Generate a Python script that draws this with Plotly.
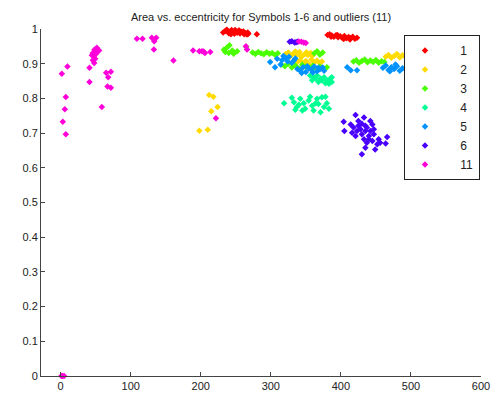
import plotly.graph_objects as go

# ---- data (area, eccentricity) ----
labels = ["1", "2", "3", "4", "5", "6", "11"]
colors = ["#ff0000", "#ffdb00", "#49ff00", "#00ff92", "#0092ff", "#4900ff", "#ff00db"]

x1 = [232, 235, 238, 240, 242, 244, 246, 248, 250, 252, 254, 256, 258, 260, 262, 264, 266, 268,
      237, 243, 249, 255, 261, 267, 280,
      381, 384, 387, 390, 393, 396, 399, 402, 405, 408, 411, 414, 417, 420, 423,
      386, 395, 404, 413]
y1 = [0.990, 0.994, 0.996, 0.988, 0.993, 0.997, 0.991, 0.986, 0.994, 0.989, 0.995, 0.987, 0.992, 0.990, 0.985, 0.988, 0.984, 0.986,
      0.998, 0.985, 0.997, 0.996, 0.993, 0.990, 0.985,
      0.983, 0.985, 0.981, 0.978, 0.982, 0.976, 0.979, 0.975, 0.980, 0.973, 0.977, 0.974, 0.978, 0.972, 0.975,
      0.978, 0.983, 0.971, 0.970]

x2 = [321, 325, 329, 333, 337, 341, 345, 349, 353, 357, 361, 327, 335, 343, 351, 359,
      338, 342, 346, 350, 354, 358, 362, 366, 370, 373,
      464, 468, 472, 476, 480, 484, 488, 492, 496, 500,
      212, 218, 224, 215, 198, 210]
y2 = [0.928, 0.932, 0.924, 0.930, 0.926, 0.934, 0.922, 0.929, 0.925, 0.931, 0.927, 0.920, 0.935, 0.921, 0.933, 0.923,
      0.905, 0.910, 0.902, 0.908, 0.900, 0.912, 0.904, 0.909, 0.901, 0.906,
      0.920, 0.925, 0.917, 0.922, 0.928, 0.918, 0.924, 0.920, 0.926, 0.921,
      0.810, 0.805, 0.775, 0.763, 0.707, 0.710]

x3 = [233, 237, 241, 245, 240, 235, 247, 252, 265,
      274, 278, 282, 286, 290, 294, 298, 302, 306, 310,
      362, 366, 370, 374,
      315, 320, 325, 330, 335, 340, 345, 350, 355, 360, 365, 370, 375, 380,
      418, 422, 426, 430, 434, 438, 442, 446, 450, 454, 458, 462]
y3 = [0.940, 0.946, 0.953, 0.938, 0.931, 0.934, 0.929, 0.936, 0.948,
      0.932, 0.928, 0.934, 0.930, 0.927, 0.933, 0.929, 0.931, 0.926, 0.930,
      0.930, 0.936, 0.926, 0.932,
      0.898, 0.893, 0.900, 0.889, 0.895, 0.886, 0.897, 0.891, 0.888, 0.894, 0.885, 0.892, 0.887, 0.890,
      0.906, 0.910, 0.903, 0.908, 0.912, 0.904, 0.909, 0.905, 0.911, 0.903, 0.907, 0.905]

x4 = [319, 330, 333, 337, 342, 347, 349, 354, 359, 361, 366, 368, 373, 376, 378, 380, 383, 371, 345, 335, 356, 340, 364,
      356, 361, 366, 371, 376, 380, 385, 387, 359, 368, 378, 383, 373, 364, 387]
y4 = [0.786, 0.802, 0.789, 0.775, 0.799, 0.786, 0.770, 0.794, 0.779, 0.765, 0.799, 0.784, 0.803, 0.775, 0.805, 0.786, 0.770, 0.760, 0.765, 0.767, 0.805, 0.782, 0.786,
      0.866, 0.861, 0.866, 0.857, 0.861, 0.852, 0.857, 0.847, 0.852, 0.847, 0.844, 0.842, 0.852, 0.857, 0.861]

x5 = [299, 306, 314, 309, 321, 333, 316, 326, 330, 335, 318, 324,
      338, 342, 346, 350, 354, 358, 362, 366, 370, 374, 344, 352, 360, 368, 376,
      409, 414, 423,
      460, 464, 468, 472, 476, 480, 484, 488, 492, 496, 500, 470, 478]
y5 = [0.905, 0.890, 0.898, 0.914, 0.917, 0.909, 0.910, 0.920, 0.903, 0.915, 0.922, 0.906,
      0.885, 0.880, 0.890, 0.876, 0.887, 0.882, 0.892, 0.878, 0.884, 0.889, 0.873, 0.893, 0.875, 0.888, 0.880,
      0.890, 0.881, 0.881,
      0.888, 0.895, 0.882, 0.890, 0.885, 0.893, 0.880, 0.887, 0.884, 0.889, 0.886, 0.878, 0.898]

x6 = [327, 330, 334, 336, 338,
      404, 421, 433, 442, 414, 418, 425, 430, 437, 445, 405, 416, 423, 430, 435, 440, 447, 433, 437, 445,
      452, 456, 466, 464, 449, 430, 435, 428, 421, 442, 425, 435, 447, 440, 454]
y6 = [0.963, 0.965, 0.961, 0.962, 0.963,
      0.733, 0.752, 0.745, 0.735, 0.725, 0.716, 0.721, 0.727, 0.716, 0.725, 0.706, 0.701, 0.706, 0.697, 0.706, 0.692, 0.697, 0.682, 0.672, 0.677,
      0.668, 0.672, 0.689, 0.670, 0.653, 0.639, 0.658, 0.711, 0.692, 0.706, 0.735, 0.721, 0.711, 0.682, 0.682]

x11 = [9.7, 1.7, 7.4, 6.0, 3.1, 7.4, 41.2, 41.2, 58.8, 108.8, 116.9, 130.2, 136.4, 133.6, 133.1,
       65.0, 71.7, 67.9, 66.9, 71.7,
       51.7, 48.3, 55.0, 46.0, 50.7, 46.9, 49.3, 46.0, 47.9, 51.7, 44.6,
       161, 189, 198, 201.7, 206, 213.6, 204, 266, 221.7, 264.5,
       340, 343.6, 347, 350,
       1, 3, 5]
y11 = [0.892, 0.871, 0.804, 0.769, 0.733, 0.697, 0.888, 0.847, 0.775, 0.972, 0.972, 0.975, 0.975, 0.965, 0.941,
       0.874, 0.877, 0.861, 0.834, 0.831,
       0.946, 0.940, 0.938, 0.931, 0.929, 0.921, 0.914, 0.910, 0.902, 0.936, 0.924,
       0.909, 0.938, 0.936, 0.936, 0.931, 0.934, 0.935, 0.941, 0.743, 0.950,
       0.964, 0.963, 0.961, 0.960,
       0.0, 0.0, 0.0]

xs = [x1, x2, x3, x4, x5, x6, x11]
ys = [y1, y2, y3, y4, y5, y6, y11]

fig = go.Figure()
for lab, col, xv, yv in zip(labels, colors, xs, ys):
    fig.add_trace(go.Scatter(
        x=xv, y=yv, mode="markers", name="\u2003 " + lab,
        marker=dict(symbol="diamond", size=5, color=col, line=dict(width=0)),
        cliponaxis=False,
    ))

axis_common = dict(
    showgrid=False, zeroline=False, showline=True, linecolor="#444444", linewidth=1,
    ticks="inside", ticklen=4, tickcolor="#444444", mirror=False, automargin=False,
    tickfont=dict(family="Liberation Sans, Arial, sans-serif", size=11, color="#222222"),
)
fig.update_xaxes(range=[-28, 600], tickvals=[0, 100, 200, 300, 400, 500, 600], **axis_common)
fig.update_yaxes(range=[0, 1], tickvals=[0, 0.1, 0.2, 0.3, 0.4, 0.5, 0.6, 0.7, 0.8, 0.9, 1],
                 ticktext=["0", "0.1", "0.2", "0.3", "0.4", "0.5", "0.6", "0.7", "0.8", "0.9", "1"],
                 **axis_common)

fig.update_layout(
    width=494, height=395,
    margin=dict(l=41, r=13, t=29, b=19, autoexpand=False),
    paper_bgcolor="white", plot_bgcolor="white",
    title=dict(text="Area vs. eccentricity for Symbols 1-6 and outliers (11)",
               x=(41 + 440 / 2) / 494, xanchor="center", y=1 - 17 / 395, yanchor="middle",
               automargin=False,
               font=dict(family="Liberation Sans, Arial, sans-serif", size=11, color="#222222")),
    showlegend=True,
    legend=dict(x=0.825, y=0.983, xanchor="left", yanchor="top",
                bgcolor="white", bordercolor="#222222", borderwidth=1,
                font=dict(family="Liberation Sans, Arial, sans-serif", size=12, color="#222222"),
                itemwidth=30, tracegroupgap=0),
)

fig.write_html("out.html", config={"displayModeBar": False},
               post_script="document.body.style.margin='0';document.body.style.padding='0';")
